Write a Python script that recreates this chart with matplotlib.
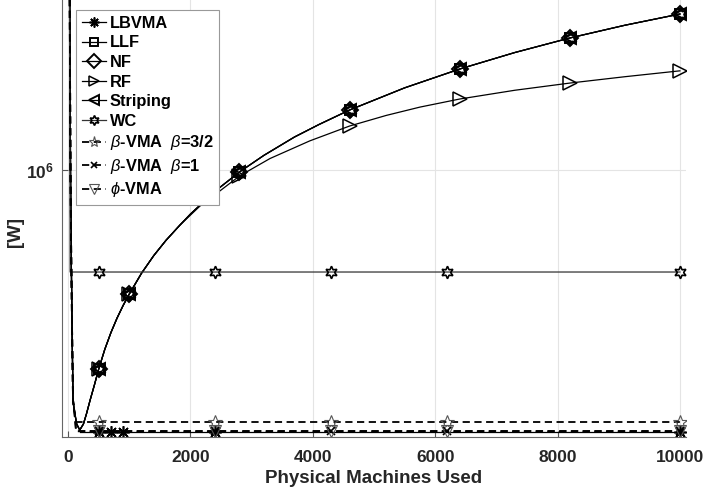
import matplotlib
matplotlib.use('Agg')
import matplotlib.pyplot as plt
from matplotlib.ticker import FixedLocator, FixedFormatter, NullLocator

plt.rcParams['font.family'] = ['Liberation Sans', 'DejaVu Sans']
plt.rcParams['mathtext.fontset'] = 'custom'
plt.rcParams['mathtext.rm'] = 'Liberation Sans'
plt.rcParams['mathtext.it'] = 'Liberation Sans:italic'
plt.rcParams['mathtext.bf'] = 'Liberation Sans:bold'

# ---------------- data ----------------
# common curve of LLF / NF / Striping
x_main = [20, 40, 50, 65, 80, 100, 140, 190, 250, 300, 360, 430, 500, 600, 700, 800, 900,
          1000, 1200, 1400, 1600, 1830, 2000, 2400, 2800, 3200, 3700, 4100, 4600,
          5500, 6400, 7300, 8200, 9100, 10000]
w_main = [8e6, 9.2e5, 5.05e5, 2.55e5, 1.406e5, 1.29e5, 1.146e5, 1.089e5, 1.146e5, 1.25e5,
          1.406e5, 1.60e5, 1.832e5, 2.168e5, 2.50e5, 2.829e5, 3.152e5,
          3.473e5, 4.147e5, 4.82e5, 5.49e5, 6.26e5, 6.87e5, 8.34e5, 9.83e5,
          1.133e6, 1.325e6, 1.474e6, 1.668e6,
          2.015e6, 2.366e6, 2.723e6, 3.083e6, 3.437e6, 3.783e6]
mark_main_x = [500, 1000, 2800, 4600, 6400, 8200, 10000]

# RF
x_rf = [20, 40, 50, 65, 80, 100, 140, 190, 250, 300, 360, 430, 500, 600, 700, 800, 900,
        1000, 1200, 1400, 1600, 1830, 2157, 2500, 2800, 3300, 3950, 4600, 5200, 5750,
        6400, 7300, 8200, 9100, 10000]
w_rf = [8e6, 9.2e5, 5.05e5, 2.55e5, 1.406e5, 1.29e5, 1.146e5, 1.089e5, 1.146e5, 1.25e5,
        1.406e5, 1.60e5, 1.832e5, 2.168e5, 2.50e5, 2.829e5, 3.152e5,
        3.473e5, 4.147e5, 4.82e5, 5.49e5, 6.26e5, 7.36e5, 8.43e5, 9.50e5,
        1.103e6, 1.282e6, 1.455e6, 1.593e6, 1.710e6,
        1.832e6, 1.974e6, 2.099e6, 2.216e6, 2.33e6]
mark_rf_x = [500, 1000, 2800, 4600, 6400, 8200, 10000]

# WC
x_wc = [20, 33, 500, 2400, 4300, 6200, 10000]
w_wc = [8e6, 4.19e5, 4.19e5, 4.19e5, 4.19e5, 4.19e5, 4.19e5]
mark_wc_x = [500, 2400, 4300, 6200, 10000]

# LBVMA
x_lb = [190, 500, 700, 900, 2400, 4300, 6200, 10000]
w_lb = [1.071e5] * 8
mark_lb_x = [500, 700, 900, 2400, 10000]

# beta / phi VMA (dashed)
x_vma = [20, 40, 50, 65, 80, 100, 130, 500, 2400, 4300, 6200, 10000]
w_b32 = [8e6, 9.2e5, 5.05e5, 2.55e5, 1.406e5, 1.29e5, 1.166e5,
         1.166e5, 1.166e5, 1.166e5, 1.166e5, 1.166e5]
w_b1 = [8e6, 9.2e5, 5.05e5, 2.55e5, 1.406e5, 1.29e5, 1.080e5,
        1.080e5, 1.080e5, 1.080e5, 1.080e5, 1.080e5]
w_phi = [8e6, 9.2e5, 5.05e5, 2.55e5, 1.406e5, 1.29e5, 1.077e5,
         1.077e5, 1.077e5, 1.077e5, 1.077e5, 1.077e5]
mark_vma_x = [500, 2400, 4300, 6200, 10000]

x_ticks = [0, 2000, 4000, 6000, 8000, 10000]
x_ticklabels = ['0', '2000', '4000', '6000', '8000', '10000']
y_ticks = [1e6]
y_ticklabels = [r'$\mathbf{10^{6}}$']
x_range = (-100, 10100)
y_range = (1.026e5, 4.263e6)

labels = ['LBVMA', 'LLF', 'NF', 'RF', 'Striping', 'WC',
          r'$\beta$-VMA  $\beta$=3/2', r'$\beta$-VMA  $\beta$=1', r'$\phi$-VMA']


def idx(xs, marks):
    return [xs.index(m) for m in marks]


# ---------------- figure ----------------
fig = plt.figure(figsize=(7.07, 4.92), dpi=100)
ax = fig.add_axes([62 / 707, 55 / 492, 624 / 707, 437 / 492])
ax.set_yscale('log')

lw = 0.9
mlw = 1.4
ms = 9
col = 'black'
hexagram = (6, 1, 0)
asterisk = (8, 2, 0)

h_llf, = ax.plot(x_main, w_main, '-', color=col, lw=lw, marker='s', ms=7.5,
                 mfc='none', mew=mlw, markevery=idx(x_main, mark_main_x))
h_nf, = ax.plot(x_main, w_main, '-', color=col, lw=lw, marker='D', ms=8.5,
                mfc='none', mew=mlw, markevery=idx(x_main, mark_main_x))
h_str, = ax.plot(x_main, w_main, '-', color=col, lw=lw, marker='<', ms=8.5,
                 mfc='none', mew=mlw, markevery=idx(x_main, mark_main_x))
h_wcm, = ax.plot(x_main, w_main, linestyle='none', marker=hexagram, ms=10,
                 mfc='none', mec=col, mew=mlw, markevery=idx(x_main, mark_main_x))
h_rf, = ax.plot(x_rf, w_rf, '-', color=col, lw=lw, marker='>', ms=9.5,
                mfc='none', mew=1.1, markevery=idx(x_rf, mark_rf_x))
h_wc, = ax.plot(x_wc, w_wc, '-', color='#333333', lw=lw, marker=hexagram, ms=ms,
                mfc='none', mec=col, mew=1.2, markevery=idx(x_wc, mark_wc_x))
h_lb, = ax.plot(x_lb, w_lb, '-', color=col, lw=lw, marker=asterisk, ms=ms,
                mfc='none', mew=1.2, markevery=idx(x_lb, mark_lb_x))
dash = (4, 2.5)
h_b32, = ax.plot(x_vma, w_b32, '--', dashes=dash, color=col, lw=1.3, marker='*', ms=ms + 1,
                 mfc='none', mec='#555555', mew=0.8, markevery=idx(x_vma, mark_vma_x))
h_b1, = ax.plot(x_vma, w_b1, '--', dashes=dash, color=col, lw=1.3, marker='x', ms=ms - 3,
                mfc='none', mew=1.2, markevery=idx(x_vma, mark_vma_x))
h_phi, = ax.plot(x_vma, w_phi, '--', dashes=dash, color=col, lw=1.3, marker='v', ms=ms,
                 mfc='none', mec='#555555', mew=0.8, markevery=idx(x_vma, mark_vma_x))

ax.set_xlim(*x_range)
ax.set_ylim(*y_range)

ax.xaxis.set_major_locator(FixedLocator(x_ticks))
ax.xaxis.set_major_formatter(FixedFormatter(x_ticklabels))
ax.yaxis.set_major_locator(FixedLocator(y_ticks))
ax.yaxis.set_major_formatter(FixedFormatter(y_ticklabels))
ax.yaxis.set_minor_locator(NullLocator())
ax.xaxis.set_minor_locator(NullLocator())

tc = '#262626'
for lab in ax.get_xticklabels() + ax.get_yticklabels():
    lab.set_fontweight('bold')
    lab.set_fontsize(12.5)
    lab.set_color(tc)
ax.tick_params(direction='in', length=4, width=0.8, color='#555555')
ax.tick_params(axis='x', pad=9)
ax.tick_params(axis='y', pad=6)

for s in ['top', 'right']:
    ax.spines[s].set_visible(False)
for s in ['left', 'bottom']:
    ax.spines[s].set_color('#666666')
    ax.spines[s].set_linewidth(0.8)

ax.grid(True, which='major', color='#e4e4e4', lw=0.8)
ax.set_axisbelow(True)

ax.set_xlabel('Physical Machines Used', fontsize=13.5, fontweight='bold', color=tc)
ax.xaxis.set_label_coords(0.5, -0.075)
ax.set_ylabel('[W]', fontsize=13.5, fontweight='bold', color=tc)
ax.yaxis.set_label_coords(-0.061, 0.47)

leg = ax.legend([h_lb, h_llf, h_nf, h_rf, h_str, h_wc, h_b32, h_b1, h_phi], labels,
                loc='upper left', bbox_to_anchor=(14 / 624, 1 - 10 / 437),
                borderaxespad=0, frameon=True, fancybox=False,
                prop={'weight': 'bold', 'size': 11.8}, labelspacing=0.28,
                handlelength=1.45, handletextpad=0.25, borderpad=0.35,
                markerscale=0.8)
leg.get_frame().set_edgecolor('#999999')
leg.get_frame().set_linewidth(0.8)
leg.get_frame().set_alpha(1)
for t in leg.get_texts():
    t.set_color('black')

fig.savefig('out.png', dpi=100)
